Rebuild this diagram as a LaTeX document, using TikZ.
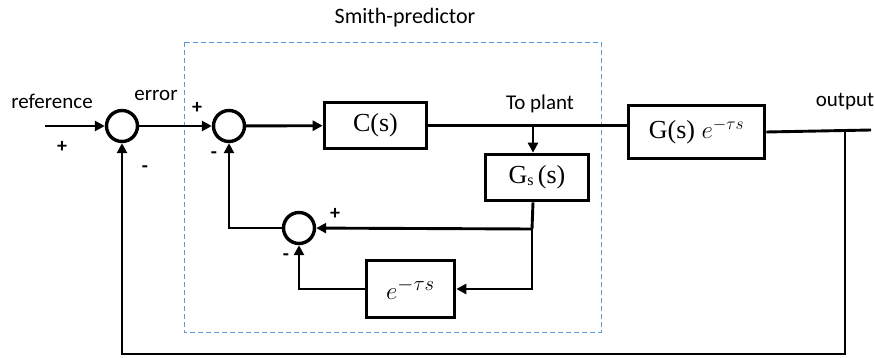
\documentclass[tikz,border=0pt]{standalone}
\usepackage{fontspec}
\setmainfont{Carlito}
\newfontfamily\serifbox{Liberation Serif}
\usetikzlibrary{arrows.meta}
\definecolor{boxblue}{HTML}{5B9BD5}
\begin{document}
\begin{tikzpicture}[x=1pt,y=-1pt,
 sumnode/.style={circle,draw,line width=3.4pt,minimum size=31pt,inner sep=0pt},
 blockbox/.style={draw,line width=3.6pt,inner sep=0pt,font=\serifbox\fontsize{26}{30}\selectfont},
 conn/.style={line width=2.9pt,-{Triangle[length=10pt,width=10pt]}},
 wire/.style={line width=2.9pt},
 lbl/.style={font=\fontsize{21}{24}\selectfont,inner sep=0pt},
 sign/.style={font=\bfseries\fontsize{20}{22}\selectfont,inner sep=0pt}]
\useasboundingbox (0,0) rectangle (875,358);
% Smith predictor region
\draw[boxblue, line width=0.9pt, dash pattern=on 5pt off 3pt] (184,42) rectangle (601,332);
\node[lbl,font=\fontsize{22}{26}\selectfont] (title) at (405,18) {Smith-predictor};
% nodes
\node[sumnode] (s1) at (122,126) {};
\node[sumnode] (s2) at (229,126) {};
\node[sumnode] (s3) at (299,228) {};
\node[blockbox,minimum width=102pt,minimum height=46pt] (C) at (375.5,125.5) {C(s)};
\node[blockbox,minimum width=103pt,minimum height=46pt] (Gs) at (537,177.5) {G{\fontsize{16}{16}\selectfont\raisebox{-2pt}{s}}\,(s)};
\node[blockbox,minimum width=88pt,minimum height=57pt] (E) at (410.5,289) {\raisebox{-6pt}{\fontsize{30}{32}\selectfont$e^{-\tau s}$}};
\node[blockbox,minimum width=136pt,minimum height=53pt] (G) at (696.5,132) {G(s) $e^{-\tau s}$};
% coordinates
\coordinate (in) at (45,126);
\coordinate (tp) at (533,125.5);
\coordinate (j1) at (532,229);
\coordinate (j2) at (532,289);
\coordinate (out) at (871,130);
\coordinate (oj) at (845,130);
\coordinate (fb) at (845,354);
% connectors
\draw[conn] (in) -- (s1);
\draw[conn] (s1) -- (s2);
\draw[conn] (s2) -- (C);
\draw[wire] (C.east) -- (C.east -| G.west);
\draw[conn] (tp) -- (tp |- Gs.north);
\draw[wire] (tp |- Gs.south) -- (j1);
\draw[conn] (j1) -- (s3);
\draw[conn] (j1) -- (j2) -- (E.east);
\draw[conn] (E.west) -| (s3.south);
\draw[conn] (s3.west) -| (s2.south);
\draw[wire] (G.east) -- (out);
\draw[conn] (oj) -- (fb) -| (s1.south);
% labels
\node[lbl] (lref) at (52,101) {reference};
\node[lbl] (lerr) at (156,95) {error};
\node[lbl] (ltp) at (540,104) {To plant};
\node[lbl] (lout) at (845,102) {output};
\node[sign] (p1) at (62,147) {+};
\node[sign] (m1) at (145,169) {-};
\node[sign] (p2) at (197,108) {+};
\node[sign] (m2) at (214,155) {-};
\node[sign] (p3) at (335,214) {+};
\node[sign] (m3) at (286,257) {-};
\end{tikzpicture}
\end{document}
